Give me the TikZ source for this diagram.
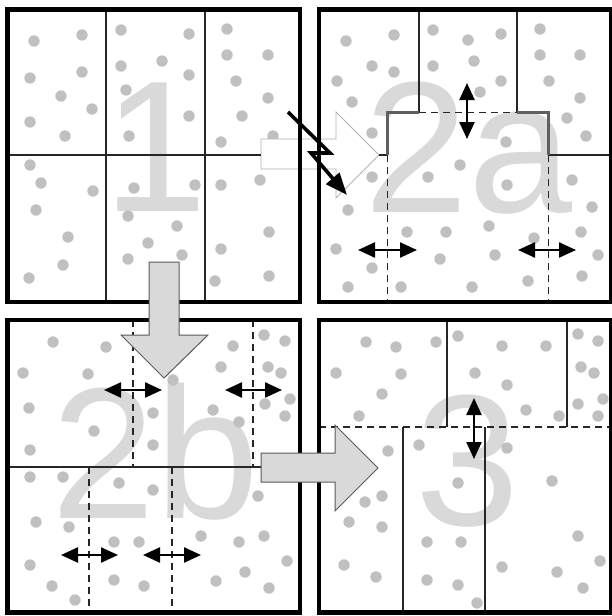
\documentclass[tikz,border=0pt]{standalone}
\usepackage{fontspec}
\newfontfamily\numfont{Liberation Sans}
\usetikzlibrary{arrows.meta}
\definecolor{dotgray}{RGB}{192,192,192}
\definecolor{numgray}{RGB}{217,217,217}
\definecolor{blockgray}{RGB}{217,217,217}
\definecolor{pathgray}{RGB}{96,96,96}

\begin{document}
\begin{tikzpicture}[x=1pt, y=-1pt,
    frame/.style={line width=4.5pt},
    wall/.style={line width=1.2pt, black!85},
    cut/.style={wall, dash pattern=on 7pt off 5pt},
    shiftarrow/.style={line width=2.4pt,
      {Triangle[length=17pt,width=15pt]}-{Triangle[length=17pt,width=15pt]}},
    bignum/.style={inner sep=0pt, anchor=base west, text=numgray,
      font=\numfont\fontsize{187}{187}\selectfont},
    block/.style={fill=blockgray, draw=black!65, line width=1pt}]
  \useasboundingbox (0,0) rectangle (611,616);

  \node (n1)  [bignum] at (103,211) {1};
  \node (n2a) [bignum] at (364.5,212) {2a};
  \node (n2b) [bignum] at (51.5,518)  {2b};
  \node (n3)  [bignum] at (415,525)   {3};

  \foreach \x/\y in {34/41, 82/35, 30/78, 82/72, 61/96, 92/109, 30/122, 65/136,
      121/30, 189/34, 121/66, 162/61, 189/75, 126/90, 189/116, 129/136,
      227/29, 227/55, 268/55, 236/81, 268/98, 242/116, 221/142, 273/136,
      30/165, 41/183, 93/191, 36/210, 68/237, 63/265, 29/278,
      134/188, 195/185, 128/216, 177/226, 148/243, 182/255, 128/259,
      221/185, 260/180, 269/232, 221/249, 269/276, 215/281}
    \fill[dotgray] (\x,\y) circle (5.7pt);
  \foreach \x/\y in {346/41, 394/35, 372/66, 394/72, 337/81, 352/102,
      433/30, 468/40, 501/34, 433/66, 474/61, 501/81, 480/92,
      540/29, 540/55, 580/55, 549/81, 580/98, 567/118, 586/136,
      372/133, 506/142, 372/177, 428/177, 460/165, 507/185, 572/180, 592/207,
      348/210, 407/232, 446/232, 489/226, 534/238, 581/232, 336/249,
      440/259, 495/255, 598/255, 372/268, 348/287, 401/287, 472/287,
      528/281, 582/276}
    \fill[dotgray] (\x,\y) circle (5.7pt);
  \foreach \x/\y in {53/342, 106/347, 23/373, 88/374, 29/408, 94/431, 30/450,
      153/413, 153/445, 173/380, 233/346, 264/335, 285/341, 221/367,
      268/367, 281/373, 213/410, 239/422, 265/404, 290/399, 285/416,
      30/477, 63/477, 119/483, 153/490, 36/522, 69/527, 114/542, 139/542,
      201/536, 239/542, 264/536, 258/496, 30/565, 52/586, 75/600,
      114/580, 144/586, 216/581, 245/572, 287/561, 269/588}
    \fill[dotgray] (\x,\y) circle (5.7pt);
  \foreach \x/\y in {366/342, 396/347, 436/342, 336/373, 401/374, 382/394,
      359/416, 458/336, 502/346, 546/346, 475/373, 507/385, 526/410,
      559/416, 578/334, 598/341, 581/367, 594/373, 578/404, 603/399,
      598/416, 388/451, 419/445, 507/448, 458/483, 552/481, 382/496,
      365/502, 349/522, 382/527, 427/542, 461/542, 578/536, 344/565,
      376/577, 427/580, 458/585, 477/603, 502/567, 557/572, 600/561,
      583/588}
    \fill[dotgray] (\x,\y) circle (5.7pt);

  \draw[fill=white, draw=black!30, line width=0.8pt]
    (261,139) -- (336,139) -- (336,112) -- (379,155) -- (336,198)
    -- (336,169) -- (261,169) -- cycle;

  \draw[wall] (106,9.5) -- (106,302) (205,9.5) -- (205,302) (7.5,155) -- (261,155);

  \draw[wall] (419,9.5) -- (419,112.5) (517,9.5) -- (517,112.5)
    (379,155) -- (387.5,155) (548.5,155) -- (611.5,155);
  \draw[cut] (419,112.5) -- (517,112.5);
  \draw[cut] (387.5,155) -- (387.5,302) (548.5,155) -- (548.5,302);
  \draw[pathgray, line width=3.5pt]
    (387.5,155) -- (387.5,112.5) -- (419,112.5)
    (517,112.5) -- (548.5,112.5) -- (548.5,155);

  \draw[wall] (7.5,467) -- (300,467);
  \draw[cut] (133,320) -- (133,467) (253,320) -- (253,467)
    (89,467) -- (89,612.5) (172,467) -- (172,612.5);

  \draw[wall] (447,320) -- (447,427) (567,320) -- (567,427)
    (403,427) -- (403,612.5) (485,427) -- (485,612.5);
  \draw[cut] (319,427) -- (611.5,427);

  \draw[frame] (7.5,9.5) rectangle (300,302);
  \draw[frame] (319,9.5) rectangle (611.5,302);
  \draw[frame] (7.5,320) rectangle (300,612.5);
  \draw[frame] (319,320) rectangle (611.5,612.5);

  \draw[block] (149,262) -- (179,262) -- (179,335) -- (208,335) -- (164,378)
    -- (121,335) -- (149,335) -- cycle;
  \draw[block] (261,453) -- (335,453) -- (335,425) -- (378,468) -- (335,511)
    -- (335,482) -- (261,482) -- cycle;

  \draw[shiftarrow] (467,83) -- (467,139);
  \draw[shiftarrow] (358,250) -- (417,250);
  \draw[shiftarrow] (518,250) -- (576,250);
  \draw[shiftarrow] (104,390) -- (162,390);
  \draw[shiftarrow] (225,390) -- (282,390);
  \draw[shiftarrow] (61,555) -- (118,555);
  \draw[shiftarrow] (143,555) -- (201,555);
  \draw[shiftarrow] (474,398) -- (474,459);

  \draw[line width=3.6pt, -{Triangle[length=22pt,width=17pt]}]
    (288,112) -- (330,153) -- (311,153) -- (347,195);
\end{tikzpicture}
\end{document}
